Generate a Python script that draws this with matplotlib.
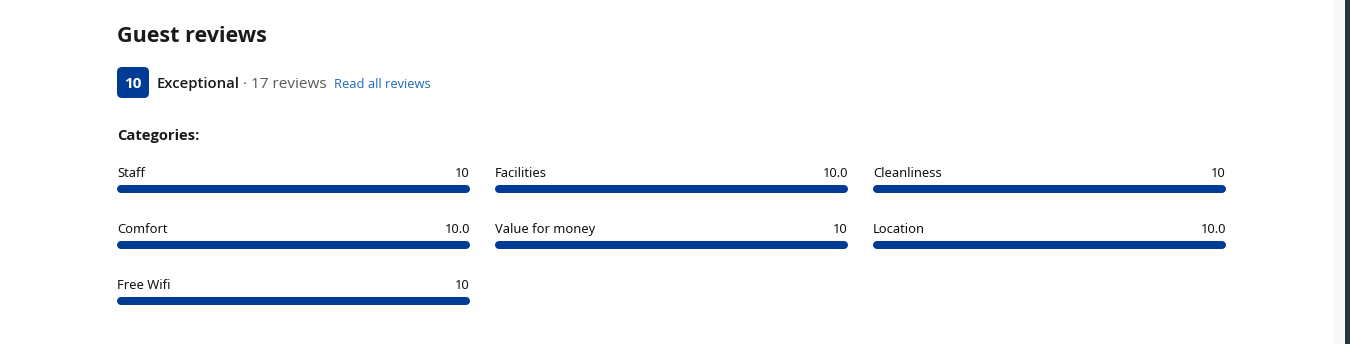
import matplotlib.pyplot as plt
from matplotlib.patches import FancyBboxPatch

plt.rcParams['font.family'] = ['Open Sans', 'DejaVu Sans']

categories = ['Staff', 'Facilities', 'Cleanliness',
              'Comfort', 'Value for money', 'Location',
              'Free Wifi']
scores = [10, 10.0, 10, 10.0, 10, 10.0, 10]
score_labels = ['10', '10.0', '10', '10.0', '10', '10.0', '10']
max_score = 10

overall = '10'
rating_word = 'Exceptional'
review_count = '17 reviews'

blue = '#003b95'
dark = '#1a1a1a'

fig = plt.figure(figsize=(13.5, 3.44), dpi=100)
ax = fig.add_axes([0, 0, 1, 1])
ax.set_xlim(0, 1350)
ax.set_ylim(344, 0)
ax.axis('off')

# page edge / scrollbar on the right
ax.axvspan(1334, 1345, color='#f7f8f9', lw=0)
ax.axvspan(1345, 1350, color='#27363e', lw=0)

ax.text(117, 42, 'Guest reviews', fontsize=15.5, fontweight='bold',
        color=dark, va='baseline')

badge = FancyBboxPatch((117, 67), 32, 31, boxstyle='round,pad=0,rounding_size=5',
                       fc=blue, ec='none')
ax.add_patch(badge)
ax.text(133, 88, overall, fontsize=11, fontweight='bold', color='white',
        ha='center', va='baseline')
ax.text(157, 88, rating_word, fontsize=10.7, fontweight='semibold',
        color=dark, va='baseline')
ax.text(243, 88, '· ' + review_count, fontsize=11, color='#595959', va='baseline')
ax.text(334, 88, 'Read all reviews', fontsize=9.3, color='#1a6bbf', va='baseline')

ax.text(117, 140, 'Categories:', fontsize=10.6, fontweight='bold',
        color=dark, va='baseline')

col_x = [117, 495, 873]
row_y = [189, 245, 301]
bar_w = 353
bar_h = 8
lab_font = dict(fontsize=9.3, fontweight=500, family=['Noto Sans', 'DejaVu Sans'],
                color='#111111', va='baseline')
for i, (name, val, lab) in enumerate(zip(categories, scores, score_labels)):
    x0 = col_x[i % 3]
    y = row_y[i // 3]
    # grey track then filled part, round caps
    ax.plot([x0 + bar_h / 2, x0 + bar_w - bar_h / 2], [y, y], color='#e7e7e7',
            lw=bar_h * 0.72, solid_capstyle='round')
    ax.plot([x0 + bar_h / 2, x0 + bar_h / 2 + (bar_w - bar_h) * val / max_score],
            [y, y], color=blue, lw=bar_h * 0.72, solid_capstyle='round')
    ax.text(x0, y - 12, name, **lab_font)
    ax.text(x0 + bar_w, y - 12, lab, ha='right', **lab_font)

fig.savefig('out.png', dpi=100, facecolor='white')
